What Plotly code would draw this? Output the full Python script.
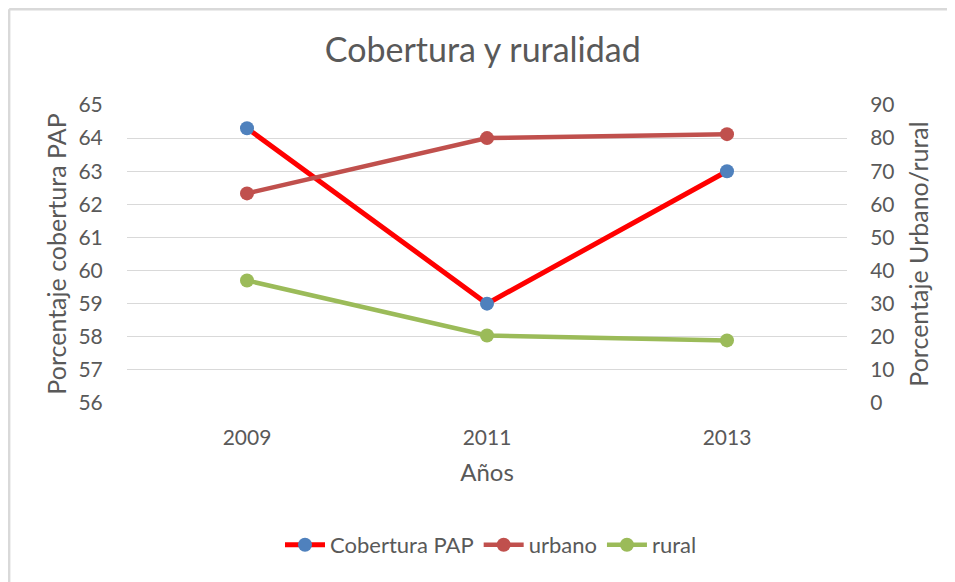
import plotly.graph_objects as go

years = ["2009", "2011", "2013"]
cobertura = [64.3, 59.0, 63.0]
urbano = [63.3, 80.0, 81.2]
rural = [37.0, 20.4, 18.9]
left_ticks = list(range(56, 66))
right_ticks = list(range(0, 100, 10))

FONT = "Lato"
GRAY = "#595959"

fig = go.Figure()
fig.add_trace(go.Scatter(x=years, y=cobertura, name="Cobertura PAP", mode="lines+markers",
                         line=dict(color="#FF0000", width=5),
                         marker=dict(color="#4F81BD", size=14)))
fig.add_trace(go.Scatter(x=years, y=urbano, name="urbano", mode="lines+markers", yaxis="y2",
                         line=dict(color="#C0504D", width=4.5),
                         marker=dict(color="#C0504D", size=14)))
fig.add_trace(go.Scatter(x=years, y=rural, name="rural", mode="lines+markers", yaxis="y2",
                         line=dict(color="#9BBB59", width=4.5),
                         marker=dict(color="#9BBB59", size=14)))

# page body adds an 8px offset; reference pixel coords are converted by subtracting it
OFF = 8
W, H = 955 - OFF, 582 - OFF
L, T = 127 - OFF, 105 - OFF
R = W - (847 - OFF)
B = H - (403 - OFF)
pw, ph = W - L - R, H - T - B

def px(x):
    return (x - OFF - L) / pw

def py(y):
    return (H - B - (y - OFF)) / ph

EDGE = OFF + 1.2  # closest drawable position to the reference frame

fig.update_layout(
    width=W, height=H,
    margin=dict(l=L, r=R, t=T, b=B),
    paper_bgcolor="white", plot_bgcolor="white",
    font=dict(family=FONT, color=GRAY, size=21),
    title=dict(text="Cobertura y ruralidad", x=px(488), xanchor="center",
               y=1 - (50 - OFF) / H, yanchor="middle", font=dict(size=34, color=GRAY)),
    xaxis=dict(type="category", range=[-0.5, 2.5], showgrid=False, zeroline=False,
               showline=False, ticks="outside", ticklen=16, tickcolor="rgba(0,0,0,0)",
               tickfont=dict(size=21),
               title=dict(text="Años", font=dict(size=24), standoff=15)),
    yaxis=dict(range=[56, 65], tickvals=left_ticks, showgrid=True, gridcolor="#D9D9D9",
               gridwidth=1.3, zeroline=False, showline=False,
               ticks="outside", ticklen=19, tickcolor="rgba(0,0,0,0)",
               tickfont=dict(size=21),
               title=dict(text="Porcentaje cobertura PAP", font=dict(size=25), standoff=4)),
    yaxis2=dict(range=[0, 90], tickvals=right_ticks, overlaying="y", side="right",
                showgrid=False, zeroline=False, showline=False,
                ticks="outside", ticklen=18, tickcolor="rgba(0,0,0,0)",
                tickfont=dict(size=21),
                title=dict(text="Porcentaje Urbano/rural", font=dict(size=25), standoff=16)),
    legend=dict(orientation="h", x=px(491), xanchor="center", y=py(545), yanchor="middle",
                font=dict(size=22), itemwidth=40, bgcolor="rgba(0,0,0,0)"),
    showlegend=True,
    shapes=[
        dict(type="line", xref="paper", yref="paper", x0=px(EDGE), x1=px(EDGE),
             y0=py(EDGE), y1=py(582), line=dict(color="#D9D9D9", width=2.4)),
        dict(type="line", xref="paper", yref="paper", x0=px(EDGE), x1=px(955),
             y0=py(EDGE), y1=py(EDGE), line=dict(color="#D9D9D9", width=2.4)),
    ],
)

fig.write_html("out.html")
